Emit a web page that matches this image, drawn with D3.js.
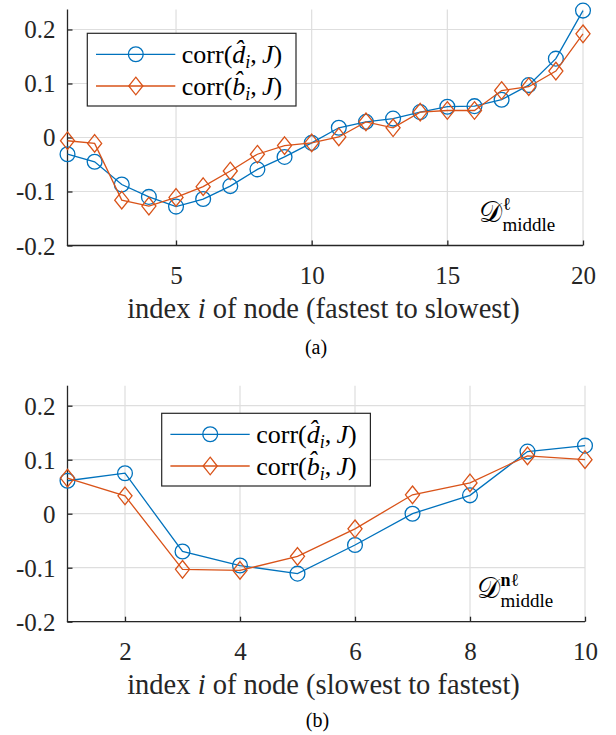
<!DOCTYPE html>
<html><head><meta charset="utf-8">
<script src="https://cdn.jsdelivr.net/npm/d3@7"></script>
<style>body{margin:0;background:#fff} svg{display:block} text{font-family:'Liberation Serif','Times New Roman',serif}</style>
</head><body>
<svg id="c" width="616" height="735"></svg>
<script>
// ---------- data ----------
const xA = [1,2,3,4,5,6,7,8,9,10,11,12,13,14,15,16,17,18,19,20];
const dA = [-0.031,-0.045,-0.087,-0.110,-0.128,-0.114,-0.090,-0.059,-0.036,-0.010,0.018,0.029,0.035,0.047,0.057,0.058,0.070,0.097,0.146,0.235];
const bA = [-0.006,-0.011,-0.116,-0.127,-0.111,-0.091,-0.062,-0.031,-0.015,-0.010,0.001,0.029,0.018,0.047,0.050,0.050,0.087,0.094,0.123,0.192];
const xB = [1,2,3,4,5,6,7,8,9,10];
const dB = [0.061,0.075,-0.070,-0.096,-0.111,-0.058,0.000,0.034,0.115,0.126];
const bB = [0.066,0.033,-0.103,-0.105,-0.079,-0.028,0.035,0.057,0.107,0.100];
const yTicks = [-0.2,-0.1,0,0.1,0.2];
const yTickLabels = ["-0.2","-0.1","0","0.1","0.2"];
const xTicksA = [5,10,15,20];
const xTicksB = [2,4,6,8,10];
const xLabelA = "(fastest to slowest)";
const xLabelB = "(slowest to fastest)";
const yDomain = [-0.2, 0.237];

const BLUE = "#0072BD", ORANGE = "#D95319", AX = "#262626", GRID = "#dedede";
const SERIF = "'Liberation Serif','Times New Roman',serif";
const svg = d3.select("#c");

function panel(cfg){
  const g = svg.append("g");
  const x = d3.scaleLinear().domain(cfg.xDomain).range([cfg.left, cfg.right]);
  const y = d3.scaleLinear().domain(yDomain).range([cfg.bottom, cfg.top]);
  // grid
  g.selectAll(".gy").data(yTicks).join("line")
    .attr("x1", cfg.left).attr("x2", cfg.right)
    .attr("y1", d=>y(d)).attr("y2", d=>y(d))
    .attr("stroke", GRID).attr("stroke-width", 1.2);
  g.selectAll(".gx").data(cfg.xTicks).join("line")
    .attr("x1", d=>x(d)).attr("x2", d=>x(d))
    .attr("y1", cfg.top).attr("y2", cfg.bottom)
    .attr("stroke", GRID).attr("stroke-width", 1.2);
  // axes
  const ya = g.append("g").attr("transform", `translate(${cfg.left},0)`)
    .call(d3.axisLeft(y).tickValues(yTicks).tickSize(-5).tickPadding(12)
      .tickFormat((d,i)=>yTickLabels[i]));
  const xa = g.append("g").attr("transform", `translate(0,${cfg.bottom})`)
    .call(d3.axisBottom(x).tickValues(cfg.xTicks).tickSize(-5).tickPadding(38)
      .tickFormat(d3.format("d")));
  [ya, xa].forEach(a=>{
    a.attr("font-family", null).attr("font-size", null);
    a.selectAll(".tick line").attr("stroke", AX).attr("stroke-width", 1.3);
    a.selectAll("text").attr("fill", AX).style("font-family", SERIF).style("font-size", "25px");
    a.select(".domain").remove();
  });
  g.append("line").attr("x1", cfg.left).attr("x2", cfg.left).attr("y1", cfg.top).attr("y2", cfg.bottom+0.6)
    .attr("stroke", AX).attr("stroke-width", 1.3);
  g.append("line").attr("x1", cfg.left-0.6).attr("x2", cfg.right).attr("y1", cfg.bottom).attr("y2", cfg.bottom)
    .attr("stroke", AX).attr("stroke-width", 1.3);
  ya.selectAll("text").attr("dy", "0.34em");
  xa.selectAll("text").attr("dy", "0");

  const line = d3.line().x(d=>x(d[0])).y(d=>y(d[1]));
  const series = [
    {v: cfg.d, color: BLUE, shape: "circle"},
    {v: cfg.b, color: ORANGE, shape: "diamond"}
  ];
  series.forEach(s=>{
    const pts = cfg.xs.map((xx,i)=>[xx, s.v[i]]);
    g.append("path").attr("d", line(pts)).attr("fill","none")
      .attr("stroke", s.color).attr("stroke-width", 1.3);
    drawMarkers(g, pts.map(p=>[x(p[0]), y(p[1])]), s);
  });

  // x label
  const lab = g.append("text").attr("x", cfg.labelX).attr("y", cfg.bottom + 72)
    .attr("text-anchor","middle").style("font-family", SERIF).style("font-size", "28.5px").attr("fill", AX);
  lab.append("tspan").text("index ");
  lab.append("tspan").attr("font-style","italic").text("i");
  lab.append("tspan").text(" of node " + cfg.label);
  g.append("text").attr("x", cfg.capX).attr("y", cfg.bottom + cfg.capDy)
    .attr("text-anchor","middle").style("font-family", SERIF).style("font-size", "20px").attr("fill", "#000")
    .text(cfg.caption);

  // legend
  const L = cfg.legend;
  g.append("rect").attr("x", L.x).attr("y", L.y).attr("width", 208.7).attr("height", 72.7)
    .attr("fill","#fff").attr("stroke", AX).attr("stroke-width", 1.2);
  const rows = [{s: series[0], letter: "d", cy: L.y+21}, {s: series[1], letter: "b", cy: L.y+52.7}];
  rows.forEach(r=>{
    g.append("line").attr("x1", L.x+8.7).attr("x2", L.x+88).attr("y1", r.cy).attr("y2", r.cy)
      .attr("stroke", r.s.color).attr("stroke-width", 1.3);
    drawMarkers(g, [[L.x+48.5, r.cy]], r.s);
    mathCorr(g, L.x+94.5, r.cy+8.5, r.letter);
  });

  // annotation
  const A = cfg.annot;
  const D = g.append("text").attr("x", A.x).attr("y", A.y).style("font-family", "'DejaVu Serif',serif")
    .style("font-size", "29px").attr("fill","#000").text("\u{1D49F}");
  const w = D.node().getComputedTextLength();
  const sup = g.append("text").attr("x", A.x + w + 0.5).attr("y", A.y - 12)
    .style("font-family", SERIF).style("font-size", "18px").attr("fill","#000");
  A.sup.forEach(p=>sup.append("tspan").attr("font-weight", p.bold?"bold":"normal").text(p.t));
  g.append("text").attr("x", A.x + w + 0.5).attr("y", A.y + 9)
    .style("font-family", SERIF).style("font-size", "19px").attr("fill","#000").text("middle");
}

function drawMarkers(g, pts, s){
  if (s.shape === "circle"){
    g.selectAll(null).data(pts).join("circle")
      .attr("cx", d=>d[0]).attr("cy", d=>d[1]).attr("r", 7.4)
      .attr("fill","none").attr("stroke", s.color).attr("stroke-width", 1.3);
  } else {
    const r = 8.8;
    g.selectAll(null).data(pts).join("path")
      .attr("d", d=>`M${d[0]},${d[1]-r}L${d[0]+r*0.8},${d[1]}L${d[0]},${d[1]+r}L${d[0]-r*0.8},${d[1]}Z`)
      .attr("fill","none").attr("stroke", s.color).attr("stroke-width", 1.3);
  }
}

function mathCorr(g, x0, y0, letter){
  const t = g.append("text").attr("x", x0).attr("y", y0).style("font-family", SERIF)
    .style("font-size", "26px").attr("fill", "#000");
  t.append("tspan").text("corr(");
  t.append("tspan").attr("font-style","italic").text(letter + "\u0302");
  t.append("tspan").attr("font-style","italic").style("font-size", "18px").attr("dy", 5).text("i");
  t.append("tspan").attr("dy", -5).text(",\u2009");
  t.append("tspan").attr("font-style","italic").text("J");
  t.append("tspan").text(")");
}

panel({xs: xA, d: dA, b: bA, xDomain: [1,20], xTicks: xTicksA,
  left: 67.5, right: 583, top: 9.5, bottom: 245.5,
  label: xLabelA, labelX: 323.5, caption: "(a)", capX: 316, capDy: 108,
  legend: {x: 87.3, y: 33.3},
  annot: {x: 479, y: 222, sup: [{t:"\u2113"}]}});
panel({xs: xB, d: dB, b: bB, xDomain: [1,10], xTicks: xTicksB,
  left: 67.5, right: 585, top: 385.7, bottom: 621.7,
  label: xLabelB, labelX: 323.5, caption: "(b)", capX: 317.5, capDy: 105,
  legend: {x: 161.7, y: 413.3},
  annot: {x: 477, y: 598, sup: [{t:"n", bold:true},{t:"\u2113"}]}});
</script>
</body></html>
